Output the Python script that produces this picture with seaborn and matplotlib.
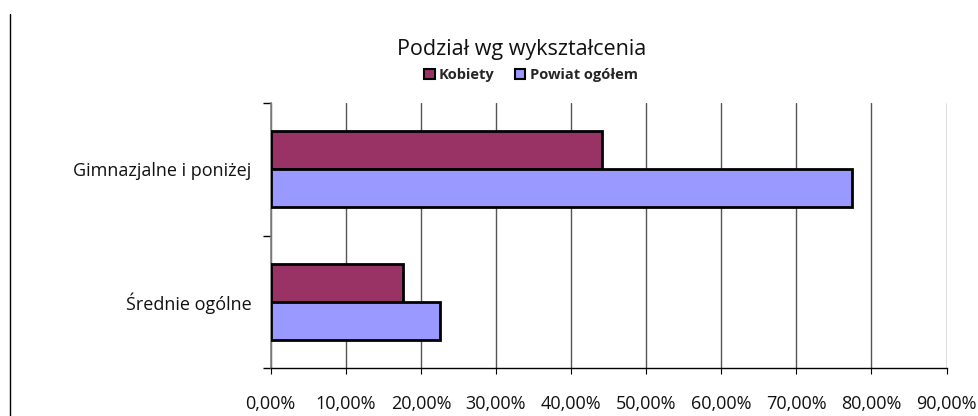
import matplotlib
matplotlib.use("Agg")
import matplotlib.pyplot as plt
from matplotlib.ticker import FuncFormatter, FixedLocator
from matplotlib.lines import Line2D
from matplotlib.patches import Patch
import seaborn as sns
import pandas as pd

categories = ["Gimnazjalne i poniżej", "Średnie ogólne"]
series_names = ["Kobiety", "Powiat ogółem"]
kobiety = [44.1, 17.6]
powiat = [77.4, 22.6]
x_ticks = [0, 10, 20, 30, 40, 50, 60, 70, 80, 90]
title = "Podział wg wykształcenia"
colors = ["#993366", "#9999FF"]

df = pd.DataFrame({
    "kategoria": categories * 2,
    "seria": [series_names[0]] * len(categories) + [series_names[1]] * len(categories),
    "wartosc": kobiety + powiat,
})

sns.set_theme(style="white")
plt.rcParams["font.family"] = ["Open Sans", "DejaVu Sans"]

fig = plt.figure(figsize=(9.79, 4.16), dpi=100)
ax = fig.add_axes([270.7 / 979, 1 - 368 / 416, (946.5 - 270.7) / 979, (368 - 103) / 416])

sns.barplot(data=df, y="kategoria", x="wartosc", hue="seria", order=categories,
            hue_order=series_names, palette=colors, saturation=1, orient="h", width=0.57,
            edgecolor="black", linewidth=2.0, gap=0, ax=ax, legend=False, zorder=3)

ax.set_xlim(0, 90)
ax.set_ylim(1.5, -0.5)
ax.xaxis.set_major_locator(FixedLocator(x_ticks))
ax.xaxis.set_major_formatter(FuncFormatter(lambda v, p: f"{v:.2f}%".replace(".", ",")))
ax.grid(axis="x", color="#555555", linewidth=1.0, zorder=0)
ax.set_axisbelow(True)
for s in ["top", "right"]:
    ax.spines[s].set_visible(False)
ax.spines["left"].set_color("#808080")
ax.spines["left"].set_linewidth(1.2)
ax.spines["bottom"].set_color("black")
ax.spines["bottom"].set_linewidth(1.0)
ax.set_xlabel("")
ax.set_ylabel("")

ax.tick_params(axis="x", which="major", direction="out", length=4.5, width=0.8,
               color="black", bottom=True, labelsize=13, pad=15, labelcolor="#111111")
ax.tick_params(axis="y", which="major", length=0, labelsize=13, pad=14, labelcolor="#111111")
ax.yaxis.set_minor_locator(FixedLocator([-0.5, 0.5, 1.5]))
ax.tick_params(axis="y", which="minor", direction="out", length=5.5, width=1.0,
               color="black", left=True)

fig.text(522 / 979, 1 - 49 / 416, title, ha="center", va="center", fontsize=15.5, color="#111111")

handles = [Patch(facecolor=c, edgecolor="black", linewidth=1.5) for c in colors]
leg = fig.legend(handles, series_names, loc="center", bbox_to_anchor=(531 / 979, 1 - 75 / 416),
                 ncol=2, frameon=False, handlelength=0.7, handleheight=0.7,
                 handletextpad=0.3, columnspacing=1.4,
                 prop={"weight": "bold", "size": 10.5})

fig.add_artist(Line2D([10 / 979, 10 / 979], [0, 1 - 14 / 416], transform=fig.transFigure,
                      color="black", linewidth=1.0))

fig.savefig("out.png", dpi=100)
